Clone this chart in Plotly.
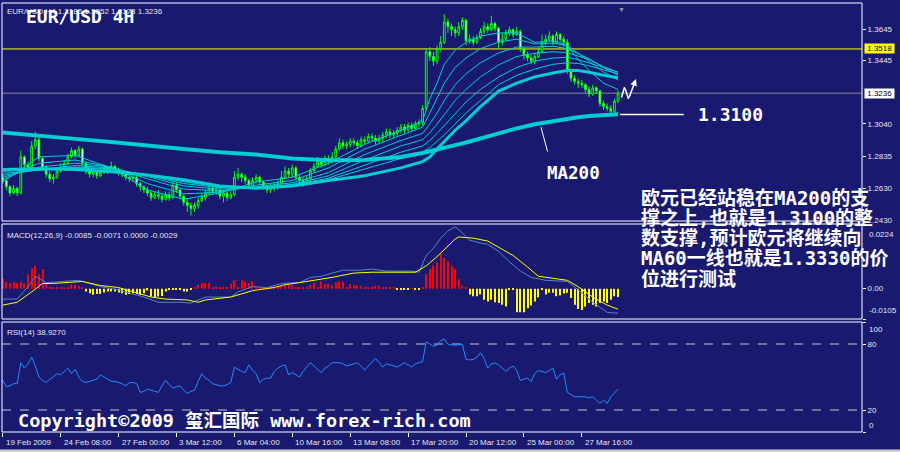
import plotly.graph_objects as go

# ---------------- data ----------------
bars = list(range(171))
first_open = 1.2700
close = [
 1.2680, 1.2640, 1.2600, 1.2630, 1.2600, 1.2830, 1.2780, 1.2760, 1.2900, 1.2940,
 1.2820, 1.2760, 1.2720, 1.2690, 1.2700, 1.2740, 1.2760, 1.2790, 1.2830, 1.2870,
 1.2840, 1.2880, 1.2790, 1.2740, 1.2720, 1.2730, 1.2710, 1.2730, 1.2760, 1.2740,
 1.2770, 1.2750, 1.2730, 1.2720, 1.2700, 1.2690, 1.2700, 1.2660, 1.2640, 1.2620,
 1.2600, 1.2570, 1.2590, 1.2580, 1.2560, 1.2590, 1.2570, 1.2650, 1.2620, 1.2580,
 1.2540, 1.2520, 1.2500, 1.2520, 1.2550, 1.2570, 1.2600, 1.2630, 1.2610, 1.2620,
 1.2580, 1.2600, 1.2570, 1.2590, 1.2700, 1.2720, 1.2700, 1.2680, 1.2650, 1.2680,
 1.2700, 1.2670, 1.2640, 1.2620, 1.2630, 1.2640, 1.2660, 1.2700, 1.2740, 1.2720,
 1.2760, 1.2700, 1.2680, 1.2660, 1.2690, 1.2740, 1.2770, 1.2800, 1.2780, 1.2820,
 1.2800, 1.2830, 1.2880, 1.2920, 1.2900, 1.2910, 1.2930, 1.2920, 1.2900, 1.2940,
 1.2930, 1.2960, 1.2950, 1.2930, 1.2950, 1.2970, 1.2990, 1.2970, 1.2980, 1.3000,
 1.3020, 1.3000, 1.3030, 1.3010, 1.3040, 1.3050, 1.3140, 1.3500, 1.3470, 1.3440,
 1.3520, 1.3560, 1.3690, 1.3660, 1.3640, 1.3620, 1.3660, 1.3700, 1.3570, 1.3580,
 1.3560, 1.3590, 1.3630, 1.3660, 1.3640, 1.3680, 1.3650, 1.3560, 1.3580, 1.3620,
 1.3640, 1.3610, 1.3630, 1.3520, 1.3480, 1.3460, 1.3440, 1.3470, 1.3500, 1.3560,
 1.3580, 1.3600, 1.3560, 1.3610, 1.3580, 1.3560, 1.3380, 1.3330, 1.3310, 1.3300,
 1.3290, 1.3260, 1.3230, 1.3270, 1.3250, 1.3170, 1.3150, 1.3140, 1.3120, 1.3185,
 1.3236]
high = [
 1.2720, 1.2690, 1.2650, 1.2650, 1.2640, 1.2870, 1.2840, 1.2800, 1.2930, 1.2990,
 1.2960, 1.2830, 1.2780, 1.2740, 1.2720, 1.2760, 1.2790, 1.2810, 1.2850, 1.2890,
 1.2880, 1.2900, 1.2890, 1.2800, 1.2760, 1.2750, 1.2740, 1.2750, 1.2780, 1.2770,
 1.2800, 1.2780, 1.2760, 1.2750, 1.2730, 1.2720, 1.2720, 1.2710, 1.2670, 1.2650,
 1.2640, 1.2610, 1.2610, 1.2620, 1.2600, 1.2610, 1.2610, 1.2680, 1.2670, 1.2630,
 1.2590, 1.2560, 1.2540, 1.2540, 1.2570, 1.2600, 1.2620, 1.2660, 1.2650, 1.2640,
 1.2640, 1.2620, 1.2610, 1.2610, 1.2740, 1.2760, 1.2730, 1.2720, 1.2690, 1.2700,
 1.2720, 1.2710, 1.2680, 1.2650, 1.2660, 1.2670, 1.2680, 1.2740, 1.2770, 1.2760,
 1.2780, 1.2770, 1.2720, 1.2700, 1.2710, 1.2760, 1.2790, 1.2830, 1.2820, 1.2840,
 1.2840, 1.2860, 1.2900, 1.2950, 1.2940, 1.2930, 1.2950, 1.2950, 1.2940, 1.2960,
 1.2960, 1.2980, 1.2980, 1.2970, 1.2970, 1.2990, 1.3010, 1.3010, 1.3000, 1.3020,
 1.3040, 1.3040, 1.3050, 1.3050, 1.3060, 1.3070, 1.3160, 1.3520, 1.3530, 1.3500,
 1.3540, 1.3600, 1.3740, 1.3710, 1.3680, 1.3660, 1.3690, 1.3720, 1.3710, 1.3610,
 1.3600, 1.3610, 1.3650, 1.3690, 1.3680, 1.3730, 1.3690, 1.3660, 1.3620, 1.3640,
 1.3660, 1.3650, 1.3660, 1.3640, 1.3530, 1.3500, 1.3480, 1.3490, 1.3530, 1.3610,
 1.3610, 1.3630, 1.3610, 1.3630, 1.3620, 1.3600, 1.3580, 1.3390, 1.3350, 1.3330,
 1.3320, 1.3300, 1.3280, 1.3290, 1.3280, 1.3260, 1.3190, 1.3170, 1.3160, 1.3200,
 1.3252]
low = [
 1.2660, 1.2620, 1.2580, 1.2590, 1.2580, 1.2590, 1.2760, 1.2740, 1.2750, 1.2880,
 1.2800, 1.2740, 1.2700, 1.2670, 1.2660, 1.2690, 1.2730, 1.2750, 1.2780, 1.2820,
 1.2820, 1.2830, 1.2770, 1.2720, 1.2700, 1.2700, 1.2690, 1.2700, 1.2720, 1.2720,
 1.2730, 1.2730, 1.2710, 1.2700, 1.2680, 1.2670, 1.2670, 1.2640, 1.2610, 1.2600,
 1.2580, 1.2550, 1.2560, 1.2560, 1.2540, 1.2550, 1.2550, 1.2560, 1.2600, 1.2560,
 1.2520, 1.2480, 1.2456, 1.2480, 1.2500, 1.2540, 1.2550, 1.2590, 1.2590, 1.2590,
 1.2560, 1.2540, 1.2550, 1.2560, 1.2580, 1.2680, 1.2670, 1.2660, 1.2630, 1.2640,
 1.2660, 1.2650, 1.2620, 1.2600, 1.2600, 1.2610, 1.2620, 1.2650, 1.2690, 1.2700,
 1.2700, 1.2680, 1.2660, 1.2640, 1.2650, 1.2680, 1.2730, 1.2760, 1.2760, 1.2770,
 1.2780, 1.2790, 1.2820, 1.2870, 1.2880, 1.2880, 1.2890, 1.2900, 1.2880, 1.2890,
 1.2910, 1.2920, 1.2930, 1.2910, 1.2920, 1.2920, 1.2950, 1.2950, 1.2950, 1.2960,
 1.2980, 1.2980, 1.2990, 1.2990, 1.3000, 1.3020, 1.3030, 1.3120, 1.3440, 1.3410,
 1.3420, 1.3500, 1.3550, 1.3620, 1.3600, 1.3590, 1.3600, 1.3640, 1.3540, 1.3550,
 1.3540, 1.3550, 1.3580, 1.3610, 1.3620, 1.3630, 1.3630, 1.3520, 1.3540, 1.3570,
 1.3600, 1.3590, 1.3600, 1.3500, 1.3450, 1.3440, 1.3420, 1.3420, 1.3460, 1.3490,
 1.3540, 1.3560, 1.3540, 1.3550, 1.3560, 1.3530, 1.3360, 1.3310, 1.3290, 1.3270,
 1.3270, 1.3240, 1.3210, 1.3220, 1.3230, 1.3150, 1.3130, 1.3120, 1.3100, 1.3110,
 1.3173]
open_ = [first_open] + close[:-1]

# moving averages, read at sample bars
ma_x = [0, 10, 20, 30, 40, 50, 60, 70, 80, 90, 100, 110,
        116, 118, 120, 122, 125, 128, 132, 137, 142, 147, 152, 156, 159, 162, 166, 170]
ma200 = [1.2985, 1.2962, 1.2945, 1.2925, 1.2900, 1.2880, 1.2860, 1.2845, 1.2820, 1.2808, 1.2810, 1.2830,
         1.2855, 1.2865, 1.2875, 1.2887, 1.2905, 1.2922, 1.2948, 1.2982, 1.3012, 1.3038, 1.3058, 1.3073, 1.3083, 1.3090, 1.3097, 1.3102]
ma60 = [1.2750, 1.2755, 1.2750, 1.2735, 1.2715, 1.2685, 1.2645, 1.2630, 1.2645, 1.2680, 1.2710, 1.2760,
        1.2800, 1.2830, 1.2880, 1.2930, 1.3000, 1.3060, 1.3150, 1.3250, 1.3300, 1.3340, 1.3365, 1.3380, 1.3380, 1.3370, 1.3350, 1.3335]
ema_a = [1.2670, 1.2830, 1.2840, 1.2760, 1.2620, 1.2560, 1.2600, 1.2670, 1.2700, 1.2790, 1.2910, 1.3000,
         1.3060, 1.3200, 1.3300, 1.3420, 1.3510, 1.3560, 1.3600, 1.3620, 1.3620, 1.3560, 1.3570, 1.3540, 1.3450, 1.3380, 1.3300, 1.3260]
ema_b = [1.2685, 1.2790, 1.2810, 1.2765, 1.2660, 1.2595, 1.2605, 1.2650, 1.2680, 1.2760, 1.2880, 1.2970,
         1.3020, 1.3110, 1.3200, 1.3300, 1.3400, 1.3460, 1.3520, 1.3562, 1.3580, 1.3550, 1.3555, 1.3540, 1.3490, 1.3440, 1.3370, 1.3320]
ema_c = [1.2700, 1.2765, 1.2790, 1.2765, 1.2690, 1.2625, 1.2615, 1.2640, 1.2665, 1.2730, 1.2845, 1.2935,
         1.2980, 1.3040, 1.3110, 1.3190, 1.3290, 1.3360, 1.3430, 1.3492, 1.3530, 1.3530, 1.3535, 1.3520, 1.3490, 1.3455, 1.3400, 1.3350]
ema_d = [1.2712, 1.2750, 1.2775, 1.2760, 1.2705, 1.2645, 1.2625, 1.2635, 1.2655, 1.2710, 1.2810, 1.2900,
         1.2940, 1.2985, 1.3040, 1.3100, 1.3190, 1.3260, 1.3340, 1.3416, 1.3470, 1.3490, 1.3500, 1.3495, 1.3475, 1.3450, 1.3405, 1.3370]
ema_e = [1.2725, 1.2745, 1.2765, 1.2755, 1.2712, 1.2660, 1.2635, 1.2635, 1.2650, 1.2695, 1.2780, 1.2860,
         1.2900, 1.2935, 1.2980, 1.3030, 1.3110, 1.3180, 1.3260, 1.3339, 1.3400, 1.3440, 1.3460, 1.3465, 1.3450, 1.3430, 1.3400, 1.3370]
ema_f = [1.2738, 1.2748, 1.2760, 1.2750, 1.2715, 1.2672, 1.2640, 1.2632, 1.2647, 1.2685, 1.2750, 1.2820,
         1.2860, 1.2890, 1.2930, 1.2970, 1.3040, 1.3110, 1.3190, 1.3290, 1.3350, 1.3390, 1.3420, 1.3430, 1.3425, 1.3410, 1.3385, 1.3360]

# MACD(12,26,9)
macd_x = [0, 4, 7, 9, 12, 18, 21, 27, 32, 39, 43, 49, 52, 54, 56, 63, 65, 69, 73, 77, 82, 85, 88, 91, 94,
          99, 102, 106, 110, 113, 115, 116, 117, 119, 121, 123, 125, 127, 129, 132, 134, 137, 140, 143, 146,
          150, 156, 159, 163, 167, 170]
macd_main = [-0.0036, -0.0036, 0.0007, 0.0043, 0.0021, 0.0025, 0.0029, 0.0007, -0.0004, -0.0029, -0.0047,
             -0.0047, -0.0050, -0.0039, -0.0029, -0.0029, -0.0011, 0.0007, 0.0004, 0.0018, 0.0021, 0.0039,
             0.0043, 0.0054, 0.0064, 0.0064, 0.0068, 0.0061, 0.0061, 0.0061, 0.0057, 0.0086, 0.0115, 0.0140,
             0.0175, 0.0200, 0.0215, 0.0193, 0.0168, 0.0158, 0.0154, 0.0129, 0.0093, 0.0061, 0.0039, 0.0029,
             0.0025, -0.0004, -0.0047, -0.0082, -0.0085]
sig_x = [0, 4, 8, 11, 14, 22, 27, 32, 38, 41, 45, 51, 54, 56, 63, 69, 75, 78, 82, 88, 91, 97, 102, 114, 117,
         120, 123, 125, 126, 130, 134, 137, 141, 145, 148, 152, 156, 159, 163, 167, 170]
macd_signal = [-0.0057, -0.0047, -0.0011, 0.0018, 0.0018, 0.0025, 0.0011, 0.0004, -0.0018, -0.0029, -0.0036,
               -0.0039, -0.0047, -0.0039, -0.0029, -0.0007, 0.0004, 0.0014, 0.0021, 0.0032, 0.0039, 0.0054,
               0.0057, 0.0057, 0.0079, 0.0111, 0.0147, 0.0172, 0.0179, 0.0175, 0.0165, 0.0143, 0.0115, 0.0075,
               0.0043, 0.0036, 0.0029, 0.0007, -0.0029, -0.0057, -0.0071]
macd_hist = [
 0.0035, 0.0023, 0.0020, 0.0023, 0.0020, 0.0025, 0.0020, 0.0050, 0.0070, 0.0080,
 0.0050, 0.0068, 0.0020, 0.0003, 0.0003, 0.0003, 0.0003, 0.0003, 0.0003, 0.0014,
 0.0014, 0.0008, 0.0003, -0.0010, -0.0016, -0.0021, -0.0018, -0.0018, -0.0013, -0.0010,
 -0.0010, -0.0010, -0.0013, -0.0016, -0.0021, -0.0018, -0.0016, -0.0018, -0.0021, -0.0016,
 -0.0006, -0.0027, -0.0030, -0.0027, -0.0025, -0.0010, -0.0003, -0.0003, -0.0003, -0.0003,
 -0.0010, -0.0010, -0.0003, 0.0003, 0.0014, 0.0020, 0.0020, 0.0020, 0.0003, 0.0008,
 0.0003, 0.0003, 0.0003, 0.0016, 0.0029, 0.0003, 0.0029, 0.0026, 0.0020, 0.0026,
 0.0008, 0.0003, 0.0003, 0.0003, 0.0003, 0.0008, 0.0003, 0.0008, 0.0014, 0.0014,
 0.0014, 0.0003, 0.0003, 0.0003, 0.0006, 0.0013, 0.0021, 0.0003, 0.0025, 0.0016,
 0.0016, 0.0012, 0.0021, 0.0025, 0.0025, 0.0003, 0.0016, 0.0012, 0.0010, 0.0010,
 0.0003, 0.0003, 0.0003, 0.0010, 0.0010, 0.0004, 0.0004, 0.0006, 0.0003, -0.0003,
 -0.0003, -0.0003, -0.0003, 0.0001, -0.0003, -0.0003, 0.0003, 0.0051, 0.0069, 0.0081,
 0.0091, 0.0120, 0.0107, 0.0095, 0.0078, 0.0067, 0.0033, 0.0010, 0.0003, -0.0020,
 -0.0026, -0.0026, -0.0020, -0.0038, -0.0044, -0.0038, -0.0047, -0.0050, -0.0056, -0.0062,
 -0.0005, -0.0003, -0.0082, -0.0082, -0.0082, -0.0068, -0.0058, -0.0044, -0.0030, -0.0005,
 -0.0020, -0.0014, -0.0014, -0.0026, -0.0024, -0.0017, -0.0014, -0.0032, -0.0056, -0.0070,
 -0.0074, -0.0062, -0.0050, -0.0056, -0.0062, -0.0050, -0.0044, -0.0050, -0.0038, -0.0026,
 -0.0029]

# RSI(14)
rsi = [
 47, 41, 42, 44, 44, 63, 58, 62, 68, 60,
 50, 47, 45, 48, 50, 53, 52, 55, 58, 53,
 57, 50, 46, 45, 46, 47, 48, 52, 50, 48,
 46, 46, 45, 44, 42, 45, 45, 44, 36, 37,
 39, 38, 37, 36, 42, 47, 43, 40, 41, 42,
 38, 35, 37, 38, 46, 53, 49, 47, 44, 43,
 42, 42, 43, 45, 59, 57, 55, 54, 61, 56,
 53, 45, 48, 49, 49, 55, 58, 60, 61, 52,
 54, 52, 50, 55, 59, 63, 60, 57, 54, 58,
 60, 63, 63, 63, 62, 60, 61, 62, 63, 60,
 56, 60, 64, 67, 63, 59, 62, 61, 60, 59,
 61, 63, 61, 59, 62, 63, 64, 82, 80, 78,
 79, 83, 84.5, 80, 79, 79, 79, 79.5, 66, 65.5,
 66, 68, 72, 67, 58, 62, 62.7, 61, 58, 55,
 58, 60, 56, 47, 48, 49, 46, 53, 56, 55,
 54, 56, 58, 48, 52, 53.6, 36, 34, 32, 32,
 32, 32, 31, 32, 29, 26, 29, 26, 32, 35,
 38.9]

tick_bars = [0, 16, 32, 48, 64, 80, 96, 112, 128, 144, 160]
tick_labels = ['19 Feb 2009', '24 Feb 08:00', '27 Feb 00:00', '3 Mar 12:00', '6 Mar 04:00',
               '10 Mar 16:00', '13 Mar 08:00', '17 Mar 20:00', '20 Mar 12:00', '25 Mar 00:00',
               '27 Mar 16:00']
price_ticks = [1.3645, 1.3445, 1.3040, 1.2835, 1.2630, 1.2430]
level_yellow = 1.3518
level_last = 1.3236
support_level = 1.3100
note_lines = ['欧元已经站稳在MA200的支', '撑之上,也就是1.3100的整', '数支撑,预计欧元将继续向',
              'MA60一线也就是1.3330的价', '位进行测试']

assert len(close) == len(high) == len(low) == len(rsi) == len(macd_hist) == len(bars)

# ---------------- style ----------------
BG = '#191970'
LIME = '#00FF00'
TURQ = '#00CED1'
LBL = '#E6E6EE'
SMALL = 'Liberation Sans, Arial, sans-serif'
MONO = 'DejaVu Sans Mono, Noto Sans CJK SC, monospace'


def px(x):
    return (x - 2) / 860.0


def py(y):
    return (432 - y) / 429.0


fig = go.Figure()

fig.add_trace(go.Candlestick(
    x=bars, open=open_, high=high, low=low, close=close,
    increasing=dict(line=dict(color=LIME, width=1), fillcolor=BG),
    decreasing=dict(line=dict(color=LIME, width=1), fillcolor='white'),
    whiskerwidth=0, xaxis='x', yaxis='y', hoverinfo='skip'))

for vals in [ema_a, ema_b, ema_c, ema_d, ema_e, ema_f]:
    fig.add_trace(go.Scatter(x=ma_x, y=vals, mode='lines', line=dict(color=TURQ, width=1),
                             xaxis='x', yaxis='y', hoverinfo='skip'))
fig.add_trace(go.Scatter(x=ma_x, y=ma60, mode='lines', line=dict(color=TURQ, width=3),
                         xaxis='x', yaxis='y', hoverinfo='skip'))
fig.add_trace(go.Scatter(x=ma_x, y=ma200, mode='lines', line=dict(color=TURQ, width=4),
                         xaxis='x', yaxis='y', hoverinfo='skip'))

fig.add_trace(go.Bar(x=bars, y=macd_hist, width=0.3,
                     marker=dict(color=['#FF0000' if v > 0 else '#FFFF00' for v in macd_hist],
                                 line=dict(width=0)),
                     xaxis='x', yaxis='y2', hoverinfo='skip'))
fig.add_trace(go.Scatter(x=macd_x, y=macd_main, mode='lines', line=dict(color='#4F86C6', width=1),
                         xaxis='x', yaxis='y2', hoverinfo='skip'))
fig.add_trace(go.Scatter(x=sig_x, y=macd_signal, mode='lines', line=dict(color='#FFFF00', width=1),
                         xaxis='x', yaxis='y2', hoverinfo='skip'))

fig.add_trace(go.Scatter(x=bars, y=rsi, mode='lines', line=dict(color='#1E90FF', width=1),
                         xaxis='x', yaxis='y3', hoverinfo='skip'))

axis_common = dict(showgrid=False, zeroline=False, showline=False, fixedrange=True)
fig.update_layout(
    width=900, height=452,
    paper_bgcolor=BG, plot_bgcolor=BG,
    margin=dict(l=2, r=38, t=3, b=20),
    showlegend=False,
    xaxis=dict(domain=[0, 1], anchor='y3', range=[-0.2, 237.4], tickmode='array', tickvals=tick_bars,
               ticks='outside', ticklen=4, tickcolor='white', tickwidth=1, showticklabels=False,
               rangeslider=dict(visible=False), **axis_common),
    yaxis=dict(domain=[py(221), 1], range=[1.24217, 1.38107], side='right', anchor='x',
               tickmode='array', tickvals=price_ticks, ticktext=['%.4f' % v for v in price_ticks],
               ticks='outside', ticklen=3, tickcolor='white',
               tickfont=dict(family=SMALL, size=8, color=LBL), **axis_common),
    yaxis2=dict(domain=[py(319), py(224)], range=[-0.0105, 0.0224], side='right', anchor='x',
                tickmode='array', tickvals=[0.0224, 0, -0.0105], ticktext=['', '0.00', ''],
                ticks='outside', ticklen=3, tickcolor='white',
                tickfont=dict(family=SMALL, size=8, color=LBL), **axis_common),
    yaxis3=dict(domain=[0, py(322)], range=[0, 100], side='right', anchor='x',
                tickmode='array', tickvals=[100, 80, 20, 0], ticktext=['', '80', '20', ''],
                ticks='outside', ticklen=3, tickcolor='white',
                tickfont=dict(family=SMALL, size=8, color=LBL), **axis_common),
)

shapes = []
for y0, y1 in [(py(221), 1), (py(319), py(224)), (0, py(322))]:
    shapes.append(dict(type='rect', xref='paper', yref='paper', x0=0, x1=1, y0=y0, y1=y1,
                       line=dict(color='white', width=1), layer='above'))
shapes.append(dict(type='line', xref='paper', yref='y', x0=0, x1=1, y0=level_yellow, y1=level_yellow,
                   line=dict(color='#FFFF00', width=1), layer='below'))
shapes.append(dict(type='line', xref='paper', yref='y', x0=0, x1=1, y0=level_last, y1=level_last,
                   line=dict(color='#8C8C8C', width=1), layer='below'))
for lv in [80, 20]:
    shapes.append(dict(type='line', xref='paper', yref='y3', x0=0, x1=1, y0=lv, y1=lv,
                       line=dict(color='#C8C8C8', width=1, dash='dash'), layer='below'))
shapes.append(dict(type='rect', xref='paper', yref='paper', x0=-0.01, x1=1.06, y0=py(452.5), y1=py(449.5),
                   fillcolor='#D4D0C8', line=dict(width=0)))
fig.update_layout(shapes=shapes)

ann = []
small = dict(family=SMALL, size=8, color=LBL)
ann.append(dict(xref='paper', yref='paper', x=px(5), y=py(11), xanchor='left', yanchor='middle',
                text='EUR/USD,H4 1.3185 1.3252 1.3173 1.3236', showarrow=False, font=small))
ann.append(dict(xref='paper', yref='paper', x=px(24), y=py(16.5), xanchor='left', yanchor='middle',
                text='EUR/USD 4H', showarrow=False,
                font=dict(family=MONO, size=18, color='white', weight='bold')))
ann.append(dict(xref='paper', yref='paper', x=px(5), y=py(236), xanchor='left', yanchor='middle',
                text='MACD(12,26,9) -0.0085 -0.0071 0.0000 -0.0029', showarrow=False, font=small))
ann.append(dict(xref='paper', yref='paper', x=px(5), y=py(332), xanchor='left', yanchor='middle',
                text='RSI(14) 38.9270', showarrow=False, font=small))
# boxed price labels
ann.append(dict(xref='paper', yref='y', x=1, xshift=2, y=level_yellow, xanchor='left', yanchor='middle',
                text=' 1.3518 ', showarrow=False, bgcolor='#FFFF00', borderpad=0,
                font=dict(family=SMALL, size=8, color='black')))
ann.append(dict(xref='paper', yref='y', x=1, xshift=2, y=level_last, xanchor='left', yanchor='middle',
                text=' 1.3236 ', showarrow=False, bgcolor='white', borderpad=0,
                font=dict(family=SMALL, size=8, color='black')))
# edge labels of the indicator scales
ann.append(dict(xref='paper', yref='y2', x=1, xshift=5, y=0.0224, yshift=-4, xanchor='left', yanchor='top',
                text='0.0224', showarrow=False, font=small))
ann.append(dict(xref='paper', yref='y2', x=1, xshift=5, y=-0.0105, yshift=2, xanchor='left', yanchor='bottom',
                text='-0.0105', showarrow=False, font=small))
ann.append(dict(xref='paper', yref='y3', x=1, xshift=5, y=100, yshift=-1, xanchor='left', yanchor='top',
                text='100', showarrow=False, font=small))
ann.append(dict(xref='paper', yref='y3', x=1, xshift=5, y=0, xanchor='left', yanchor='bottom',
                text='0', showarrow=False, font=small))
# date labels
for b, t in zip(tick_bars, tick_labels):
    ann.append(dict(xref='x', yref='paper', x=b, y=0, yshift=-4, xshift=1, xanchor='left', yanchor='top',
                    text=t, showarrow=False, font=small))
# chart-shift marker
ann.append(dict(xref='x', yref='paper', x=171, y=1, yshift=-1, xanchor='center', yanchor='top',
                text='▼', showarrow=False, font=dict(family=SMALL, size=7, color='#9A9A9A')))
# MA200 callout
ann.append(dict(xref='x', yref='y', x=148.7, y=1.30206, text='', showarrow=True, arrowhead=0,
                arrowwidth=1, arrowcolor='white', ax=7, ay=26, standoff=0, startstandoff=0))
ann.append(dict(xref='paper', yref='paper', x=px(545), y=py(173), xanchor='left', yanchor='middle',
                text='MA200', showarrow=False,
                font=dict(family=MONO, size=17.5, color='white', weight='bold')))
# 1.3100 callout
ann.append(dict(xref='x', yref='y', x=170.6, y=support_level, text='', showarrow=True, arrowhead=0,
                arrowwidth=1.5, arrowcolor='white', ax=65, ay=0, standoff=0, startstandoff=0))
ann.append(dict(xref='paper', yref='y', x=px(696), y=support_level, xanchor='left', yanchor='middle',
                text='1.3100', showarrow=False,
                font=dict(family=MONO, size=18, color='white', weight='bold')))
# hand drawn "N" arrow
for hx, hy, tx, ty, head in [(171.8, 1.32755, -3.5, 12, 0), (172.9, 1.3199, -4, -12, 0),
                             (174.96, 1.33264, -7.5, 20, 2)]:
    ann.append(dict(xref='x', yref='y', x=hx, y=hy, text='', showarrow=True, arrowhead=head,
                    arrowsize=0.9, arrowwidth=1.5, arrowcolor='white', ax=tx, ay=ty,
                    standoff=0, startstandoff=0))
# Chinese comment
for k, line in enumerate(note_lines):
    ann.append(dict(xref='paper', yref='paper', x=px(639), y=py(197.5 + 20.3 * k), xanchor='left',
                    yanchor='middle', text=line, showarrow=False,
                    font=dict(family=MONO, size=19, color='white', weight='bold')))
# copyright
ann.append(dict(xref='paper', yref='paper', x=px(16), y=py(420), xanchor='left', yanchor='middle',
                text='Copyright©2009 玺汇国际 www.forex-rich.com', showarrow=False,
                font=dict(family=MONO, size=18.5, color='white', weight='bold')))
fig.update_layout(annotations=ann)

fig.write_html('out.html', config={'displayModeBar': False},
               post_script="document.body.style.margin='0px';document.body.style.overflow='hidden';")
